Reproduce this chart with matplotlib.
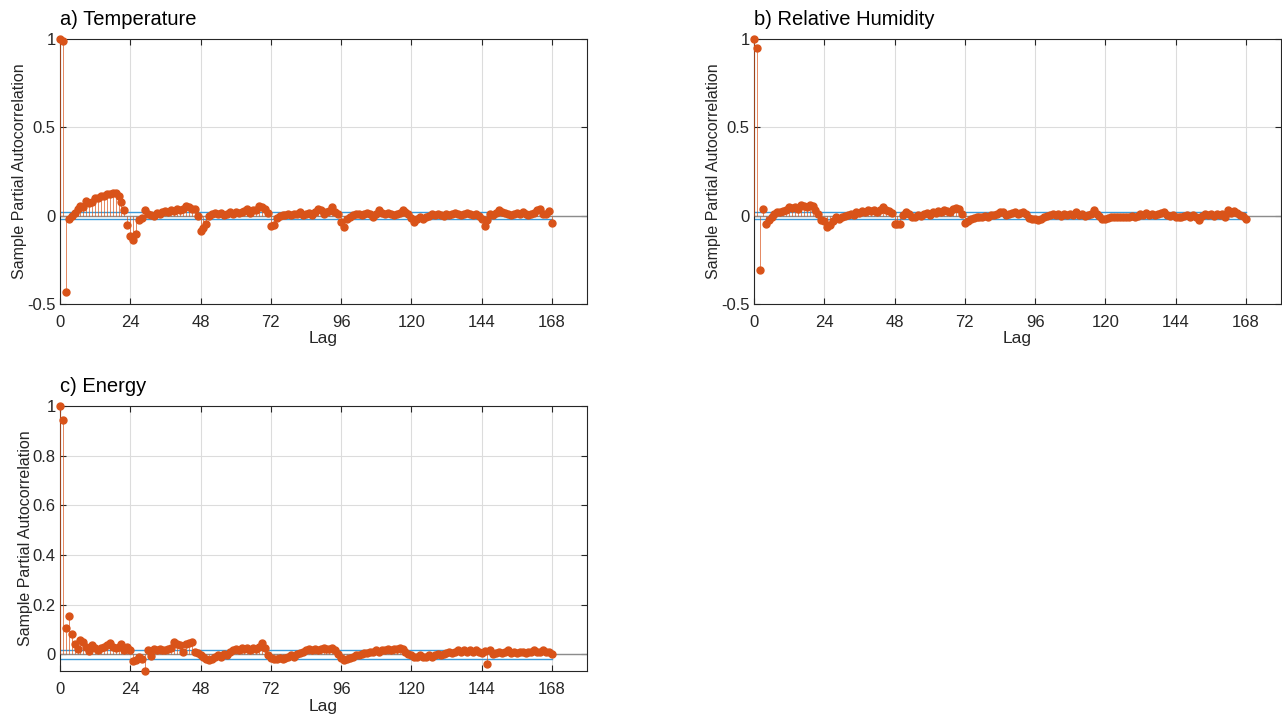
import numpy as np
import matplotlib
matplotlib.use("Agg")
import matplotlib.pyplot as plt
from matplotlib.ticker import FuncFormatter

plt.rcParams['font.family'] = ['Liberation Sans', 'DejaVu Sans']

lags = np.arange(0, 169)

# sample PACF (lags 0..168)
temperature = [
    1.0, 0.99, -0.43, -0.02, 0.0, 0.017, 0.04, 0.055, 0.047, 0.085, 0.074, 0.08,
    0.10, 0.10, 0.11, 0.113, 0.12, 0.125, 0.13, 0.13, 0.11, 0.075, 0.03, -0.05,
    -0.115, -0.14, -0.105, -0.025, -0.015, 0.03, 0.01, 0.005, 0.0, 0.015, 0.01, 0.02,
    0.025, 0.02, 0.03, 0.025, 0.035, 0.03, 0.04, 0.055, 0.05, 0.04, 0.04, 0.0,
    -0.085, -0.07, -0.045, 0.0, 0.01, 0.015, 0.01, 0.015, 0.005, 0.01, 0.02, 0.01,
    0.02, 0.015, 0.02, 0.025, 0.04, 0.015, 0.03, 0.03, 0.055, 0.047, 0.035, 0.013,
    -0.058, -0.05, -0.015, 0.0, 0.005, 0.005, 0.01, 0.005, 0.01, 0.01, 0.02, 0.005,
    0.01, 0.015, 0.005, 0.02, 0.035, 0.03, 0.01, 0.02, 0.025, 0.05, 0.02, 0.01,
    -0.035, -0.065, -0.02, -0.01, 0.005, 0.01, 0.01, 0.005, 0.01, 0.015, 0.01, -0.01,
    0.01, 0.03, 0.015, 0.01, 0.015, 0.01, 0.005, 0.01, 0.015, 0.03, 0.02, 0.01,
    -0.015, -0.035, -0.02, -0.005, -0.02, -0.01, 0.0, 0.01, 0.005, 0.01, 0.005, 0.0,
    0.01, 0.005, 0.01, 0.015, 0.01, 0.005, 0.01, 0.015, 0.01, 0.005, 0.01, 0.0,
    -0.02, -0.06, -0.025, 0.01, 0.005, 0.015, 0.03, 0.02, 0.015, 0.01, 0.005, 0.01,
    0.015, 0.01, 0.02, 0.01, 0.005, 0.01, 0.015, 0.03, 0.04, 0.01, 0.01, 0.025,
    -0.04,
]

humidity = [
    1.0, 0.95, -0.31, 0.04, -0.045, -0.025, -0.01, 0.01, 0.02, 0.02, 0.025, 0.03,
    0.05, 0.045, 0.05, 0.04, 0.06, 0.055, 0.05, 0.06, 0.055, 0.03, 0.01, -0.025,
    -0.03, -0.065, -0.055, -0.03, -0.01, -0.02, -0.005, 0.0, 0.005, 0.01, 0.005, 0.02,
    0.015, 0.025, 0.02, 0.03, 0.025, 0.03, 0.02, 0.03, 0.05, 0.03, 0.025, 0.013,
    -0.045, -0.045, -0.045, 0.005, 0.02, 0.01, -0.005, -0.005, 0.005, 0.0, 0.01, 0.015,
    0.005, 0.02, 0.015, 0.025, 0.02, 0.03, 0.025, 0.02, 0.035, 0.045, 0.035, 0.01,
    -0.04, -0.03, -0.02, -0.015, -0.01, -0.005, -0.005, 0.0, -0.005, 0.005, 0.005, 0.01,
    0.02, 0.02, 0.005, 0.01, 0.015, 0.02, 0.01, 0.015, 0.02, 0.01, -0.015, -0.02,
    -0.02, -0.025, -0.02, -0.01, 0.0, 0.005, 0.01, 0.005, 0.01, 0.0, 0.01, 0.005,
    0.01, 0.005, 0.02, 0.005, 0.01, 0.0, 0.005, 0.01, 0.03, 0.01, 0.0, -0.02,
    -0.02, -0.015, -0.01, -0.005, -0.01, -0.005, -0.01, -0.005, -0.01, 0.0, -0.005, 0.0,
    0.01, 0.005, 0.015, 0.005, 0.01, 0.005, 0.01, 0.015, 0.02, 0.005, 0.0, 0.005,
    -0.01, -0.005, -0.01, 0.0, 0.005, -0.005, 0.005, -0.005, -0.025, 0.0, 0.01, 0.005,
    0.01, 0.0, 0.01, 0.005, 0.01, -0.005, 0.03, 0.015, 0.025, 0.015, 0.005, 0.0,
    -0.02,
]

energy = [
    1.0, 0.945, 0.105, 0.152, 0.08, 0.04, 0.02, 0.055, 0.05, 0.028, 0.013, 0.035,
    0.024, 0.017, 0.024, 0.03, 0.035, 0.044, 0.03, 0.024, 0.03, 0.042, 0.015, 0.03,
    0.017, -0.027, -0.023, -0.012, -0.02, -0.067, 0.015, -0.007, 0.02, 0.015, 0.02, 0.015,
    0.015, 0.02, 0.025, 0.047, 0.04, 0.035, 0.01, 0.04, 0.045, 0.048, 0.007, 0.004,
    -0.005, -0.01, -0.02, -0.025, -0.02, -0.01, -0.005, -0.01, 0.0, -0.005, 0.01, 0.015,
    0.02, 0.015, 0.025, 0.02, 0.025, 0.015, 0.025, 0.02, 0.03, 0.045, 0.025, -0.005,
    -0.015, -0.02, -0.02, -0.015, -0.02, -0.015, -0.01, -0.005, -0.01, 0.0, 0.005, 0.01,
    0.015, 0.02, 0.015, 0.02, 0.015, 0.02, 0.025, 0.02, 0.02, 0.025, 0.015, 0.0,
    -0.015, -0.025, -0.02, -0.015, -0.01, -0.005, -0.005, 0.0, 0.005, 0.005, 0.01, 0.01,
    0.015, 0.01, 0.015, 0.015, 0.02, 0.015, 0.02, 0.02, 0.025, 0.02, 0.01, 0.0,
    -0.005, -0.01, -0.01, -0.005, -0.01, -0.01, -0.005, -0.01, -0.005, 0.0, -0.005, 0.0,
    0.005, 0.01, 0.005, 0.01, 0.015, 0.01, 0.015, 0.01, 0.015, 0.01, 0.015, 0.01,
    0.005, 0.012, -0.04, 0.015, 0.0, 0.005, 0.01, 0.005, 0.01, 0.015, 0.005, 0.01,
    0.005, 0.01, 0.01, 0.005, 0.01, 0.01, 0.015, 0.01, 0.01, 0.015, 0.01, 0.01,
    0.0,
]

bound = 0.018
titles = ["a) Temperature", "b) Relative Humidity", "c) Energy"]
ylims = [(-0.5, 1), (-0.5, 1), (-0.068, 1)]
yticks = [[-0.5, 0, 0.5, 1], [-0.5, 0, 0.5, 1], [0, 0.2, 0.4, 0.6, 0.8, 1]]

stem_col = '#D95319'
axcol = '#262626'

fig = plt.figure(figsize=(12.82, 7.15), dpi=100)
W, H = 1282, 715
boxes = [(60, 39), (754, 39), (60, 406)]  # left, top in px
aw, ah = 527, 265

for data, title, yl, yt, (lx, ty) in zip([temperature, humidity, energy], titles,
                                         ylims, yticks, boxes):
    ax = fig.add_axes([lx / W, (H - ty - ah) / H, aw / W, ah / H])
    ax.axhline(0, color='#8c8c8c', lw=1, zorder=1)
    ax.plot([0, 168], [bound, bound], color='#3A9AD9', lw=1, zorder=2)
    ax.plot([0, 168], [-bound, -bound], color='#3A9AD9', lw=1, zorder=2)
    ml, sl, bl = ax.stem(lags, data, basefmt=' ')
    plt.setp(sl, color=stem_col, linewidth=0.6, alpha=0.8, zorder=3)
    plt.setp(ml, color=stem_col, markersize=5, zorder=4, clip_on=False)

    ax.set_xlim(0, 180)
    ax.set_ylim(*yl)
    ax.set_xticks(np.arange(0, 169, 24))
    ax.set_yticks(yt)
    ax.yaxis.set_major_formatter(FuncFormatter(lambda v, p: '%g' % v))
    ax.grid(True, color='#dcdcdc', lw=0.8)
    ax.set_axisbelow(True)
    ax.tick_params(direction='in', top=True, right=True, length=4,
                   labelsize=12, colors=axcol, width=0.8)
    ax.tick_params(axis='x', pad=8)
    ax.tick_params(axis='y', pad=3)
    for s in ax.spines.values():
        s.set_color(axcol)
        s.set_linewidth(0.8)
    ax.set_xlabel("Lag", fontsize=12.5, color=axcol, labelpad=1)
    ax.set_ylabel("Sample Partial Autocorrelation", fontsize=11.5, color=axcol,
                  labelpad=0)
    ax.set_title(title, loc='left', fontsize=14.5, pad=10, color='black')

plt.savefig('out.png', dpi=100)
